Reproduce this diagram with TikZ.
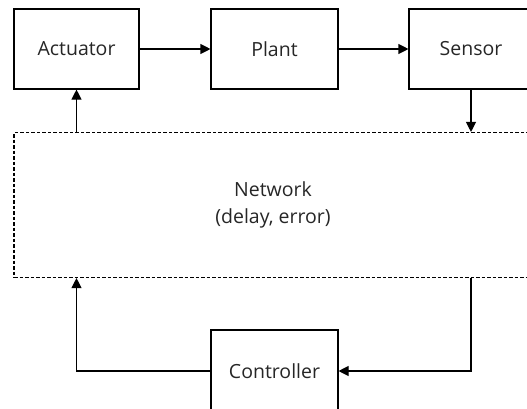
\documentclass[tikz,border=0pt]{standalone}
\usepackage{fontspec}
\setmainfont{Open Sans}
\usetikzlibrary{arrows.meta}
\begin{document}
\begin{tikzpicture}[x=1pt,y=-1pt,
  blk/.style={draw,line width=1.1pt,rectangle,inner sep=0pt,font=\fontsize{19.5}{24}\selectfont,text=black!85},
  netbox/.style={draw,line width=1.1pt,dash pattern=on 3.5pt off 2pt,rectangle,inner sep=0pt,align=center,font=\fontsize{19.5}{27}\selectfont,text=black!85},
  arr/.style={line width=1.1pt,-{Triangle[length=10pt,width=10pt]}}]
\useasboundingbox (0,0) rectangle (527,408);
\clip (0,0) rectangle (527,408);
\node[blk,minimum width=125pt,minimum height=80pt] (actuator) at (76.5,49) {Actuator};
\node[blk,minimum width=127pt,minimum height=80pt] (plant) at (274.5,49) {Plant};
\node[blk,minimum width=124pt,minimum height=80pt] (sensor) at (471,49) {Sensor};
\node[netbox,minimum width=518pt,minimum height=145pt] (network) at (273,205) {Network\\(delay, error)};
\node[blk,minimum width=127pt,minimum height=82pt] (controller) at (274.5,371) {Controller};
\draw[arr] (actuator.east) -- (plant.west);
\draw[arr] (plant.east) -- (sensor.west);
\draw[arr] (sensor.south) -- (sensor.south |- network.north);
\draw[arr] (actuator.south |- network.north) -- (actuator.south);
\draw[arr] (sensor.south |- network.south) |- (controller.east);
\draw[arr] (controller.west) -| (actuator.south |- network.south);
\end{tikzpicture}
\end{document}
